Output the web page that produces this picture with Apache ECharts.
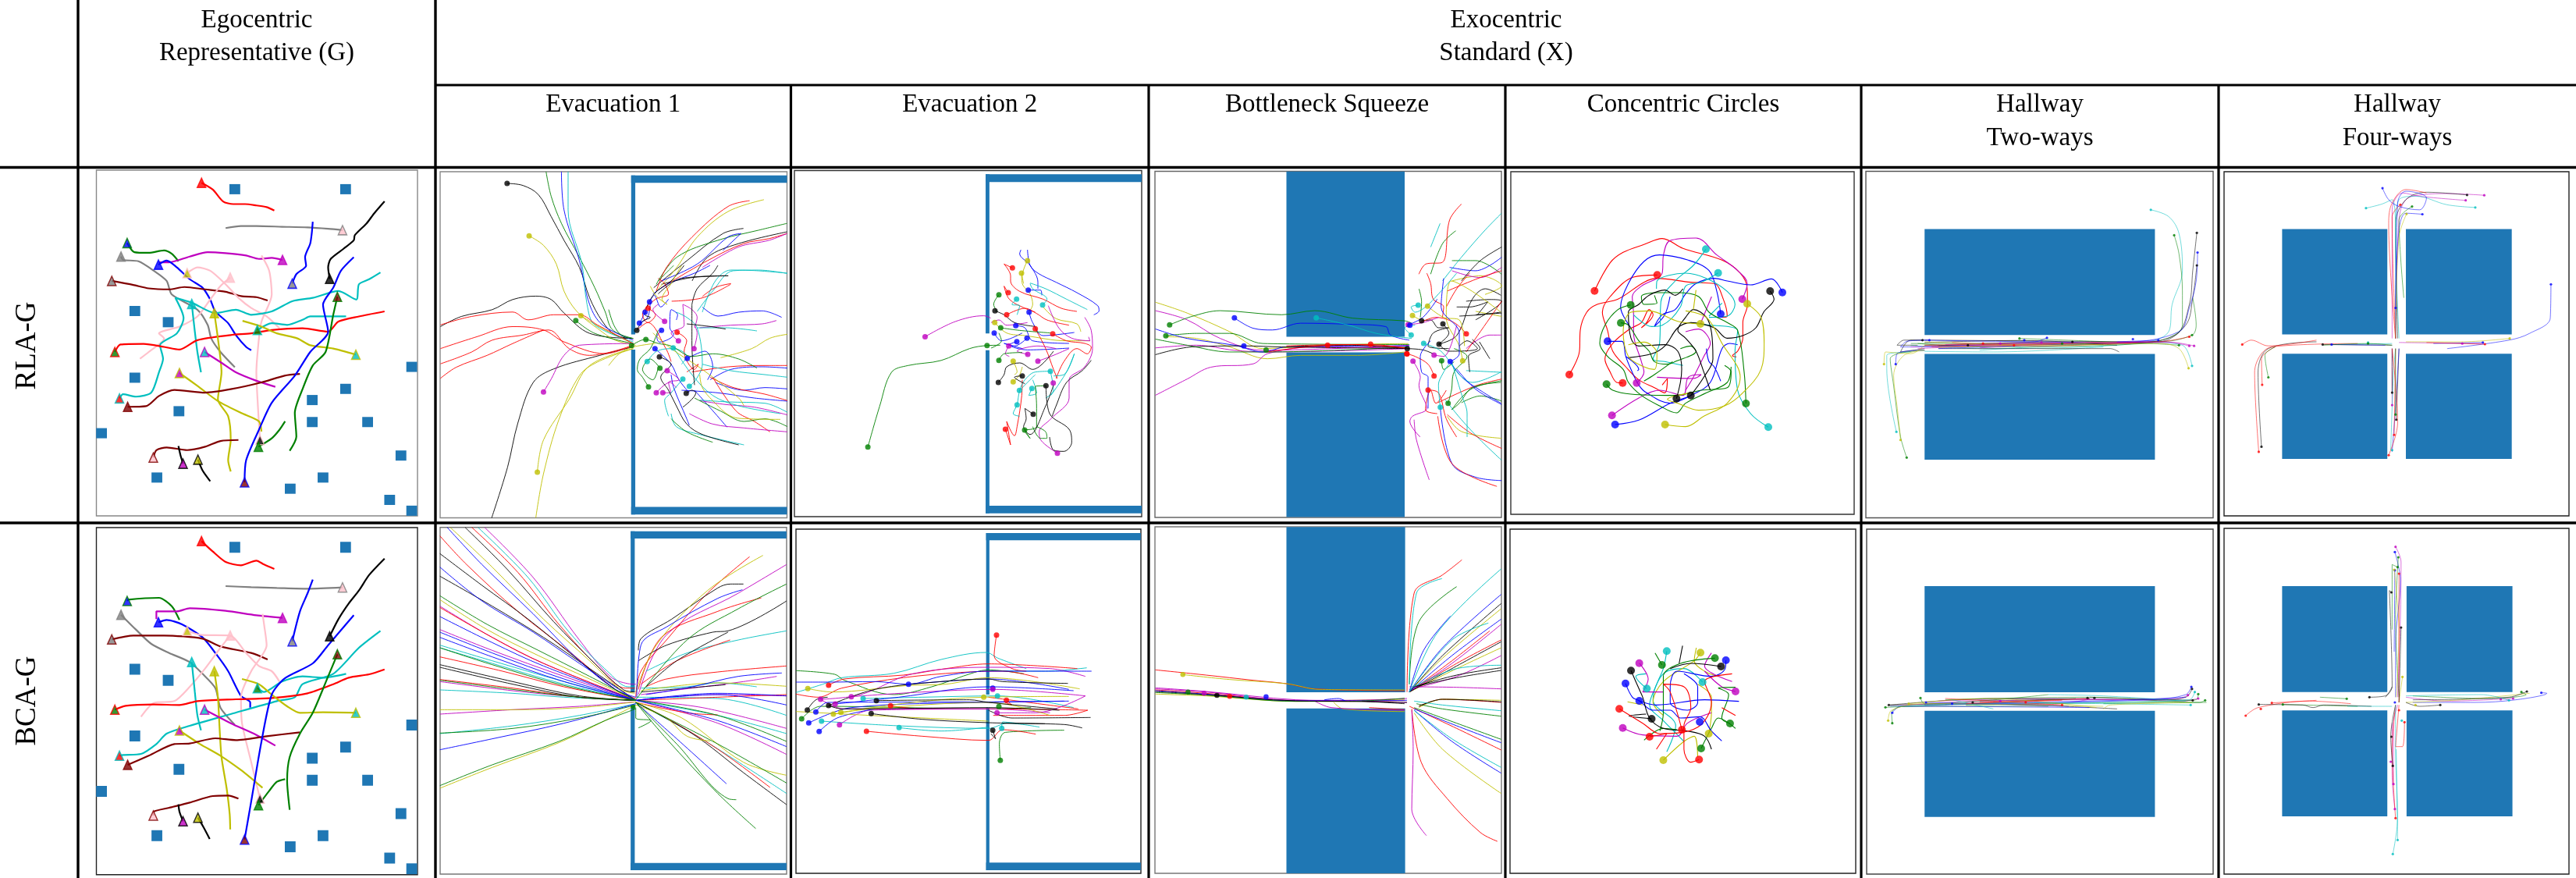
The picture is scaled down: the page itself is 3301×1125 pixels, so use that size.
<!DOCTYPE html>
<html><head><meta charset="utf-8"><style>html,body{margin:0;padding:0;background:#fff}#c{width:3301px;height:1125px}</style>
<script src="https://cdn.jsdelivr.net/npm/echarts@6/dist/echarts.min.js"></script></head><body><div id="c"></div>
<script>
// ---------- labels ----------
const rowLabels = ["RLA-G", "BCA-G"];
const groupHeaders = [["Egocentric", "Representative (G)"], ["Exocentric", "Standard (X)"]];
const columnHeaders = [["Evacuation 1"], ["Evacuation 2"], ["Bottleneck Squeeze"], ["Concentric Circles"], ["Hallway", "Two-ways"], ["Hallway", "Four-ways"]];

// ---------- reading scales: each trajectory list is read in the units of one crop of the picture ----------
const Z1 = [0, 1.522, 0, 2.306], Z2 = [1000, 1.65, 0, 2.306], Z3 = [1920, 1.135, 0, 2.306];
const Z4 = [0, 1.522, 660, 3], Z5 = [1000, 1.65, 660, 3], Z6 = [1920, 1.135, 660, 3];
const Z7 = [780, 3, 340, 3], Z8 = [1270, 3, 320, 3], Z9 = [1770, 3, 350, 3], Z10 = [2000, 3, 300, 3];

// ---------- egocentric panels: the same 27 agents in both rows ----------
const egoEdges = "r a k b g m b a d p p p c c c r y y y m d b g g d k k".split(" ");
const egoFaces = "r p k a b m b a a p y k c r g g c y m c d d d g p m y".split(" ");
const egoSquares = [[458,559],[674,559],[263,919],[328,952],[803,1084],[263,1116],[674,1149],[609,1182],[349,1215],[609,1247],[717,1247],[198,1280],[782,1346],[306,1411],[630,1411],[566,1444],[760,1477],[803,1509]];
const egoRlaTracks = [
[393,540,415,560,435,595,455,603,478,603,500,607,520,612,535,622],
[668,680,640,676,600,672,550,670,500,668,470,668,440,674],
[643,824,640,790,645,765,670,735,690,710,692,695,715,660,730,630,750,595],
[570,838,578,810,597,785,595,760,605,720,608,690,610,655],
[248,718,262,745,290,747,320,740,335,750,348,772],
[551,768,530,762,505,765,480,755,440,748,405,745,370,758,330,775,310,775],
[309,782,325,770,345,790,370,825,395,850,410,885,420,920,445,955,460,990,480,1025,490,1035],
[236,758,240,768,270,772,300,800,325,830,335,870,385,915,405,960,412,1000,430,1040,458,1085],
[218,830,260,842,290,852,330,855,360,848,400,855,440,862,470,875,500,878,522,888],
[449,820,430,845,410,885,385,935,350,965,310,985,320,1000,290,1040,273,1060],
[365,807,385,790,410,800,440,840,465,880,490,910,520,935,545,970],
[507,1300,503,1200,500,1100,505,1000,510,950,530,870,525,800,510,755],
[374,898,380,980,385,1040,392,1100],
[233,1177,240,1165,265,1172,295,1160,310,1100,318,1060,312,1020,345,985,358,940,342,880,375,895,420,925,460,915,490,930,530,920,570,890,610,880,660,860,695,885,700,840,720,825,742,805],
[502,975,530,955,560,960,590,945,605,935,640,935,675,935],
[224,1040,235,1018,280,1016,320,1025,350,1033,385,1005,450,990,490,985,530,975,590,970,640,980,660,950,700,935,750,920],
[694,1048,650,1030,605,1020,580,1000,540,985,510,965,473,948],
[418,925,425,1000,432,1100,425,1180,445,1230,450,1300,445,1360,450,1393],
[350,1102,385,1140,425,1185,470,1220,505,1245,510,1275],
[399,1040,430,1070,460,1100,500,1125,537,1143],
[249,1202,285,1200,310,1170,340,1152,400,1160,450,1150,510,1130,555,1110,585,1105],
[477,1425,480,1360,505,1270,530,1190,575,1110,605,1040,640,980,630,900,650,850,665,800,690,760],
[658,877,650,930,635,1040,610,1080,590,1150,575,1220,578,1290,565,1332],
[504,1320,530,1295,545,1270,556,1245],
[299,1352,305,1330,325,1322,365,1330,400,1320,430,1303,465,1300],
[357,1370,352,1345,348,1318],
[386,1358,395,1390,410,1422]];
const egoBcaTracks = [
[393,100,415,140,440,180,470,193,500,175,515,190,535,207],
[668,278,600,283,540,280,490,277,440,273],
[643,466,660,400,680,340,700,290,720,230,750,167],
[570,485,585,370,600,300,610,248],
[248,330,250,325,310,318,335,350,350,403],
[551,395,500,385,440,368,370,358,345,370,305,370,305,400],
[309,412,325,403,355,420,395,470,420,530,445,600,470,695,488,720,488,740],
[236,383,265,440,295,495,330,530,370,565,395,610,420,665,430,740,458,806],
[218,478,260,463,320,463,395,475,430,505,490,530,522,555],
[449,463,430,510,400,590,370,660,340,715,300,722,275,775],
[365,445,390,460,449,463,480,530,505,580,530,600,545,640],
[507,1090,490,950,472,800,470,700,490,600,520,500,515,420,512,380],
[374,565,380,680,385,770,392,827],
[233,925,240,922,275,918,305,880,325,840,370,810,450,765,540,715,575,700,590,650,650,610,700,510,742,445],
[502,665,515,680,550,640,590,620,630,625,675,610],
[224,748,245,733,300,728,350,730,385,715,460,708,530,703,600,685,650,650,680,625,720,612,750,593],
[694,760,630,758,585,760,560,735,530,690,505,650,472,630],
[418,600,425,700,428,810,432,930,442,1050,448,1150,449,1208],
[350,828,390,880,430,925,470,980,495,1020,512,1048],
[399,748,450,800,500,845,537,886],
[249,960,290,925,340,880,370,878,420,858,460,865,520,850,585,835],
[477,1247,490,1100,510,870,530,690,555,628,610,570,640,500,690,385],
[658,535,640,620,610,760,585,840,565,930,560,1020,565,1133],
[504,1115,525,1060,540,1025,556,1015],
[299,1155,300,1140,330,1125,370,1105,415,1080,445,1078,465,1090],
[357,1177,350,1140,348,1112],
[386,1163,397,1200,409,1245]];

// ---------- Evacuation 1 ----------
const evac1Walls = { top: [1231,518,1535,540], upper: [1231,518,1239,988], lower: [1231,1033,1239,1520], bottom: [1231,1498,1535,1520] };
const evac1BcaWalls = { top: [1230,62,1534,90], upper: [1230,62,1238,680], lower: [1230,732,1238,1365], bottom: [1230,1337,1534,1365] };
const evac1RlaFar = {
k:[[989,542,1020,548,1050,575,1075,640,1100,710,1130,790,1150,880,1175,950,1200,990,1232,1000],[859,965,900,935,960,915,1000,885,1045,875,1075,885,1100,925,1150,985,1235,1000],[959,1530,990,1380,1010,1250,1040,1130,1080,1090,1170,1050,1235,1025],[1275,850,1340,770,1410,690,1450,675],[1350,830,1380,760,1440,720,1535,685],[1290,840,1350,820,1420,815]],
y:[[1032,697,1060,725,1085,780,1100,860,1125,920,1165,970,1200,1005,1240,1020],[1133,933,1180,975,1235,1015],[1045,1530,1060,1400,1090,1240,1130,1110,1165,1070,1235,1030],[1048,1395,1060,1300,1110,1180,1150,1080,1235,1030],[1280,860,1320,790,1360,700,1420,625,1490,590]],
g:[[1065,507,1075,580,1095,660,1130,760,1160,850,1180,920,1195,975,1235,1000],[1123,947,1160,985,1235,1015],[1280,840,1320,760,1400,710,1480,680,1535,660]],
b:[[1095,507,1100,620,1130,770,1150,900,1175,960,1235,1005],[1290,830,1360,780,1420,700,1445,690,1410,740]],
c:[[1108,507,1108,620,1135,780,1145,900,1160,960,1235,1010],[1360,920,1390,860,1430,800,1480,798,1535,808]],
r:[[859,960,920,935,1000,922,1030,945,1080,930,1130,930,1165,960,1235,1015],[859,1030,930,995,1000,965,1060,975,1100,1010,1180,1045,1235,1020],[859,1075,920,1040,960,1005,1020,990,1070,975,1110,1030,1150,1050,1235,1020],[859,1118,890,1085,950,1050,1000,1015,1060,975],[1280,860,1300,790,1350,700,1420,610,1462,593],[1290,850,1380,770,1450,720,1500,705,1535,690],[1310,890,1370,880,1425,840]],
m:[[1060,1158,1075,1120,1100,1050,1130,1020,1235,1015],[1370,790,1440,730,1500,710,1535,690]]};
const evac1RlaFarDots = { k:[989,542], y:[1032,697,1133,933,1048,1395], g:[1123,947], m:[1060,1158] };
const evac1RlaNear = {
b:[[203,250,185,275,195,295,250,265,235,240,240,170,265,190,260,210],[302,358,370,330,400,390,380,440],[178,320,240,380,270,440,310,490],[157,140,175,115,200,160,230,130],[140,180,120,222,150,200,160,140],[360,160,420,195,500,180,590,175,665,200],[390,440,470,400,590,390,687,395],[410,450,520,480,600,470,687,475],[280,480,420,490,560,510,687,522],[330,480,410,570,455,622],[240,420,250,470,300,590,310,615],[170,110,230,70,330,30,390,0]],
r:[[263,257,300,290,290,330,330,400,345,380,300,410],[152,165,180,190,150,220,130,190,180,130,230,110,215,70,190,50],[320,410,460,390,600,385,687,385],[390,430,480,470,600,495,687,520],[400,430,490,560,560,600,620,640],[108,250,150,220,220,320,240,370],[360,120,410,85,470,70]],
m:[[268,290,240,260,290,230,285,150,320,170,340,200,330,240],[328,320,340,260,330,230],[225,405,270,440,230,450,240,490,208,490],[350,240,470,230,590,225,645,212],[350,520,450,535,560,545,687,575],[310,570,400,610,520,625,687,640],[215,215,170,170,190,150],[183,490,235,450,260,470]],
c:[[310,465,335,440,360,380,340,240,300,200,260,180],[285,437,240,490,215,520,230,580],[148,370,185,330,250,320,300,350,280,380],[340,240,450,240,570,252],[360,380,470,405,600,420,687,430],[350,518,460,525,600,530,687,565],[240,570,260,620,350,650,520,690],[360,180,410,60,470,18,560,20,687,30],[250,317,320,420,400,500,500,540,660,570]],
g:[[153,467,130,430,110,400,120,360,160,320,190,250],[197,395,160,360,130,400,170,440,190,395],[88,308,140,285,190,300,240,310,320,350,400,340,500,360,570,395],[330,510,430,560,520,600,600,590,687,620],[240,590,300,640,400,680],[0,170,20,230,50,270,90,280],[190,60,230,20,250,0]],
k:[[298,492,320,480,335,490,285,545],[195,352,240,380,200,430,230,480,260,540,300,610,360,650,500,690],[108,250,130,215,160,200,140,190,175,110,240,60,290,0],[300,225,390,235,450,245],[320,150,340,90,400,30,420,0],[330,460,320,300,320,150],[190,110,280,50,460,40]],
y:[[160,80,185,120,225,150,205,130,240,70,280,0],[430,355,550,320,620,280,687,265],[350,420,360,470,400,520,470,580,540,590,660,592],[170,260,240,320,360,400,500,510,520,540],[0,385,40,340,90,315,180,300]]};
const evac1RlaNearDots = { b:[157,140,140,180,118,222,203,250,178,320,302,358], r:[152,165,263,257], k:[108,250,195,352,298,492], m:[215,215,268,290,328,320,225,405,208,490,183,490], g:[143,285,88,308,197,395,153,467], c:[148,370,248,317,285,437,310,465] };
const evac1BcaTracks = {
m:[[945,47,1040,240,1130,480,1190,620,1225,648,1240,650],[858,350,960,470,1060,570,1240,712],[858,440,960,520,1100,620,1240,712],[858,640,1000,675,1130,700,1240,712],[858,765,1000,748,1130,735,1240,718],[1245,690,1300,460,1440,300,1534,190],[1250,690,1350,665,1450,640,1515,620],[1240,712,1400,690,1534,695],[1240,712,1370,740,1534,820],[1240,712,1400,800,1534,920]],
c:[[932,47,1030,240,1110,450,1190,610,1225,660,1238,660],[858,500,960,560,1100,640,1240,712],[858,510,960,570,1100,650,1240,712],[858,672,1000,685,1100,700,1240,712],[858,840,1000,810,1130,770,1240,725],[1260,600,1340,530,1440,480,1534,445],[1250,665,1340,660,1400,645,1476,660],[1240,700,1400,705,1534,770],[1240,712,1400,770,1534,840],[1240,720,1360,850,1534,1070]],
r:[[920,47,1010,220,1090,420,1170,590,1220,665,1238,665],[858,80,910,190,1010,370,1120,540,1200,670,1240,705],[858,355,960,470,1060,570,1240,712],[858,545,980,600,1100,660,1240,712],[858,632,1000,665,1130,700,1240,712],[1240,700,1250,600,1300,480,1380,300,1462,160],[1245,670,1290,470,1400,370,1485,318],[1250,650,1320,560,1424,480],[1260,660,1300,630,1400,603,1534,580],[1240,712,1400,700,1534,690],[1240,720,1300,780,1400,900,1502,1047],[1240,720,1340,760,1400,768]],
k:[[907,47,990,210,1080,410,1160,570,1215,670,1238,680],[858,148,940,270,1030,400,1130,560,1200,670,1240,710],[858,235,960,350,1060,470,1150,590,1240,712],[858,575,1000,640,1130,695,1240,712],[858,585,1000,650,1130,700,1240,712],[1245,520,1250,475,1310,400,1400,280,1425,265,1450,265],[1245,560,1300,500,1390,450,1420,445,1534,330],[1260,660,1320,560,1420,450],[1250,680,1340,665,1415,652],[1240,720,1350,840,1450,990,1534,1113]],
y:[[878,47,960,200,1060,400,1150,560,1210,670,1238,685],[858,325,950,440,1050,540,1150,630,1240,712],[858,748,1000,748,1130,740,1240,718],[858,1050,960,970,1090,875,1180,790,1235,735],[1240,680,1280,500,1380,290,1488,155],[1250,675,1400,645,1534,658],[1240,720,1330,780,1450,950,1534,1000],[1240,730,1300,780,1340,850,1385,868]],
b:[[872,47,940,190,1040,380,1130,560,1200,670,1240,700],[858,200,940,330,1040,450,1130,570,1240,712],[858,390,960,490,1060,580,1240,712],[858,450,960,530,1100,630,1240,712],[858,470,960,545,1100,640,1240,712],[858,902,960,860,1100,800,1240,725],[1242,700,1250,500,1300,430,1400,320,1448,287],[1260,690,1350,660,1440,620,1525,607],[1240,712,1400,685,1534,695],[1240,712,1400,690,1534,730],[1240,712,1400,790,1534,890],[1240,720,1320,860,1417,1033]],
g:[[858,310,950,420,1050,520,1150,620,1240,712],[858,510,960,575,1100,655,1240,712],[858,635,1000,670,1130,700,1240,712],[858,838,1000,820,1130,780,1240,730],[858,1040,960,960,1090,870,1180,790,1240,745],[1240,710,1340,480,1440,360,1534,265],[1245,712,1400,770,1534,870],[1240,720,1400,880,1534,1030],[1240,720,1320,880,1420,1090,1436,1094],[1240,720,1300,860,1400,1070,1474,1205],[1240,740,1240,780,1270,790,1245,818]]};
const evac1BcaDots = { g:[1235,737] };

// ---------- Evacuation 2 ----------
const evac2Walls = { top: [434,515,764,538], upper: [434,515,442,985], lower: [434,1035,442,1517], bottom: [434,1494,764,1517] };
const evac2BcaWalls = { top: [435,69,762,97], upper: [435,69,442,690], lower: [435,740,442,1365], bottom: [435,1336,762,1365] };
const evac2RlaFar = { m:[[306,995,370,950,430,933,445,940]], g:[[185,1321,210,1200,235,1100,270,1080,340,1065,400,1030,437,1021,465,1020]] };
const evac2RlaFarDots = { m:[306,995], g:[185,1321,437,1021] };
const evac2RlaNear = {
b:[[140,0,150,60,180,90,250,125,330,165,410,215,415,235,395,250],[115,0,110,15,150,60,180,125,180,150],[143,155,190,155,195,175],[146,240,160,280,200,330,320,318],[95,292,130,300,160,350,300,360],[12,320,40,350,120,320],[138,340,90,370,50,360,120,380],[99,353,70,365,140,385,300,378]],
y:[[117,90,120,130,150,170,160,210,145,240],[200,220,250,265,330,285,345,315],[14,280,60,320,130,330,290,350,380,350],[85,428,100,470,90,480],[85,508,110,480,120,450],[140,42,120,100,125,130]],
r:[[82,70,50,55,75,100,75,120,110,160,200,190,270,225,330,237],[66,165,50,140,70,190,130,225,170,240],[60,250,130,225,175,245,215,270,300,290],[170,304,210,380,240,460,255,495],[237,323,290,350,360,360,385,375,370,400,330,380,280,430,250,495],[55,690,75,750,60,660,90,715,100,680,118,560,120,500]],
c:[[150,128,210,150,290,190,370,230],[198,212,215,190,160,150,150,130],[98,190,80,210,110,215,100,250],[228,467,170,470,130,500,110,540,100,595,85,630,110,640],[109,541,170,480],[157,533,145,560,175,550,160,500],[240,485,280,480,320,400,290,470,230,560],[228,467,240,540,210,570]],
m:[[220,215,260,300,310,340,380,350,375,335],[360,260,385,310,390,380,360,450,300,500,300,570,230,650,185,700,190,730,255,782],[68,370,55,400,70,410],[141,402,100,390,180,370,250,380],[180,428,230,410,300,380],[0,280,30,270,60,290,140,280]],
g:[[30,173,10,210,25,240],[37,300,110,310,230,320],[30,425,50,400,120,395],[212,523,170,525,175,600,175,680,130,692],[129,693,150,725,130,700],[175,680,210,700,215,725,190,725,160,680],[0,378,40,350,30,320]],
k:[[15,235,50,250,90,280,170,295],[385,425,350,465,290,510,250,600,235,640],[211,523,225,630,300,690,310,740,280,775,240,770,225,720],[28,510,50,480,60,450,110,435,160,460,240,390],[120,485,90,490,130,515],[162,632,130,610,135,650,125,680,150,710,210,600,240,520]]};
const evac2RlaNearDots = { y:[140,42,117,90,14,280,85,428,85,508], r:[82,70,66,165,60,250,170,304,237,323,55,690], b:[143,155,146,240,95,292,12,320,138,340,99,353], c:[98,190,198,212,228,467,109,541,157,533,100,596], g:[30,173,37,300,30,425,129,693], k:[15,235,120,485,28,510,211,523,162,632], m:[68,370,141,402,180,428,239,512,255,782] };
const evac2BcaTracks = {
c:[[33,682,90,650,130,625,240,608,340,555,435,528,460,550,520,590],[440,598,560,600,648,587],[175,705,300,700,459,695,620,740],[87,792,250,810,440,820,480,800,548,815],[251,817,340,830,440,815],[468,820,470,795,500,800]],
g:[[33,598,115,612,135,635,240,690,320,660,410,605,440,595,515,610],[45,783,85,735,440,745,530,740],[465,943,463,880,476,835,600,827]],
r:[[102,654,135,630,260,615,350,590,440,572,628,590],[33,688,80,700,130,665,260,625,380,605,470,600,545,625],[233,733,300,745,440,745,650,750],[182,831,300,850,440,866,470,825,540,842],[457,461,452,540,490,590,520,600],[440,700,630,745],[478,712,490,730,475,720],[450,770,520,770,600,770,650,750]],
m:[[85,708,170,690,280,610,440,585,570,590,645,620],[150,698,300,680,450,670,645,695],[85,708,135,745,440,745,570,760],[125,806,190,750,440,745],[460,760,540,760,645,695]],
b:[[33,642,100,642,200,640,271,650,340,620,440,600,560,600,658,600],[271,650,340,640,440,630,610,670],[116,726,250,700,440,660,620,675],[75,757,100,720,440,718,610,715],[60,799,150,740,440,720,600,715],[82,832,120,780,200,745]],
y:[[58,667,110,680,270,655,350,650,440,625,633,668],[128,758,280,720,430,700,610,697],[112,765,190,745,440,720,570,770],[33,755,190,770,440,792]],
k:[[102,732,200,670,340,640,440,630,470,640,608,647],[203,713,400,710,440,720,585,745],[57,749,75,710,100,700],[102,732,130,745,440,740,590,750],[192,763,300,785,440,798,560,802],[440,750,490,780,656,778],[470,800,600,805,638,818],[449,827,455,860,445,840]]};
const evac2BcaDots = { r:[457,461,102,654,233,733,182,831,478,712], y:[58,667,112,765,128,758,430,700], b:[271,650,75,757,60,799,82,832,449,665], m:[85,708,150,698,116,726,125,806,449,670,458,760], c:[175,705,87,792,251,817,459,695,468,820], k:[203,713,102,732,57,749,192,763,449,827], g:[45,783,462,736,465,943] };

// ---------- Bottleneck squeeze ----------
const bottleRlaBlocks = { upper: [1070,506,1320,995], lower: [1070,1041,1320,1528] };
const bottleBcaBlocks = { upper: [1070,46,1321,681], lower: [1070,743,1321,1378] };
const bottleRlaFar = {
y:[[793,893,860,925,950,980,1020,1030,1150,1020,1328,1015],[815,995,880,1000,950,1025,1030,1060,1100,1050,1220,1050,1320,1040],[1420,830,1480,815,1525,845,1490,870],[1470,920,1525,935],[1410,1230,1440,1275,1525,1295]],
m:[[793,918,860,945,930,1000,1020,1035,1330,1020],[793,1028,880,1020,960,1035,1030,1040,1330,1030],[793,1168,860,1120,910,1085,1000,1075,1030,1045,1130,1025,1330,1030],[1420,800,1480,820,1525,790],[1450,1030,1500,990,1525,990],[1340,1240,1345,1300,1372,1418]],
g:[[823,960,870,935,930,918,1060,930,1130,918,1210,940,1320,948,1335,955],[815,992,880,985,950,985,1020,1015,1330,1018],[793,1002,860,1020,950,1040,1030,1040,1330,1025],[1375,810,1400,720,1428,682],[1420,770,1470,770,1525,810],[1420,1210,1460,1150,1525,1125],[1440,1190,1480,1170,1525,1185]],
b:[[960,939,1000,970,1040,975,1100,955,1200,958,1280,965,1290,990,1330,1005],[793,972,860,1000,960,1020,1020,1040,1070,1025,1330,1022],[1415,790,1470,800,1525,760],[1430,1090,1470,1150,1525,1195],[1395,1200,1420,1370,1470,1410,1525,1420]],
c:[[1133,939,1200,960,1260,985,1335,1000],[1375,730,1395,660],[1400,830,1440,760,1490,680,1525,630],[1450,1095,1525,1100],[1405,1180,1440,1240,1480,1300,1525,1360]],
k:[[793,1048,870,1025,980,1022,1060,1025,1330,1030],[1070,1025,1200,1020,1330,1030],[1440,830,1480,770,1525,730],[1450,890,1500,885,1525,890,1470,945],[1470,930,1525,925],[1478,1010,1500,1060]],
r:[[1027,1040,1157,1020,1248,1018,1328,1030],[1070,1022,1200,1018,1325,1028],[1350,810,1365,780,1400,775,1415,650,1440,603],[1410,860,1480,820,1525,800],[1450,1040,1525,890],[1390,1190,1470,1140,1525,1120],[1410,1225,1460,1280,1525,1325],[1390,1230,1420,1370,1515,1437]]};
const bottleRlaFarDots = { g:[823,960,815,992,1027,1034], b:[960,939,980,1022], c:[1133,939], r:[1157,1020,1248,1017,1325,1046] };
const bottleRlaNear = {
k:[[155,183,190,180,220,210,260,210,200,230,180,280,260,290],[237,195,260,230,220,273,290,240,350,100,400,60,460,85],[222,273,260,300,370,290,330,260,300,280],[100,290,160,295,200,310],[300,165,380,160,460,150],[340,380,335,320,380,290,350,255],[290,130,340,130,410,110,370,160]],
r:[[327,233,280,190,210,170,150,190],[180,449,220,460,250,560,290,630],[203,395,180,350,130,320,98,310],[215,540,170,525,190,450,210,500,250,450],[175,0,190,40,200,100,240,130,235,170],[340,0,290,60,250,130]],
g:[[257,500,270,450,280,380,330,320,280,290],[232,337,240,370,280,340],[145,60,155,110,150,170],[270,525,300,500,350,440,460,420]],
y:[[178,127,240,170,300,180,320,280],[313,337,300,280,250,170,270,30,350,70,460,150],[120,163,150,180]],
m:[[122,338,150,400,145,430,175,520,120,550,110,570,150,630],[203,315,240,320,290,200],[103,198,160,190,220,170]],
b:[[265,340,300,310,300,230,230,130,240,20],[180,520,180,400,155,380,150,320,190,260],[100,200,160,170,215,100],[265,340,310,400,380,450,460,500]],
c:[[142,123,115,130,130,150,170,130,220,80,290,0],[163,270,230,300,300,390,350,420,460,380],[227,515,220,430,240,380,260,350],[330,630,330,540,310,470,270,340],[115,238,90,210,130,200]]};
const bottleRlaNearDots = { c:[142,123,115,238,163,270,227,515], y:[178,127,120,163,313,337], m:[103,198,203,315,122,338], b:[110,200,265,340], k:[222,273,155,183,237,195,100,290], r:[327,233,98,310,203,395,180,449], g:[232,337,257,500] };
const bottleBcaTracks = {
r:[[793,595,900,615,1000,635,1070,648,1130,668,1320,675],[793,672,900,685,1090,714,1200,716,1320,712],[1245,740,1320,748],[1325,680,1340,300,1400,230,1441,172],[1330,680,1420,560,1500,445],[1330,680,1430,570,1524,480],[1350,735,1400,708,1524,720],[1330,735,1430,820,1524,903],[1335,745,1355,950,1410,1090,1480,1220,1516,1254]],
y:[[851,613,950,632,1070,648,1140,670,1320,672],[793,688,900,695,1090,716,1200,712,1320,708],[1170,720,1190,745,1320,755],[1330,680,1400,550,1524,360],[1330,680,1430,590,1524,510],[1350,740,1400,708,1524,712],[1340,760,1400,900,1524,1070]],
m:[[793,668,900,680,1090,712,1200,712,1325,705],[793,664,900,678,1090,710,1200,714,1325,720],[1130,715,1165,740,1320,750],[1330,680,1420,570,1524,420],[1330,670,1430,620,1524,540],[1330,660,1430,662,1524,668],[1335,750,1338,900,1335,1130,1366,1232]],
b:[[793,675,900,688,1090,714,1200,714,1325,712],[1150,710,1180,705,1195,715],[1330,680,1360,520,1417,388],[1330,680,1400,510,1524,305],[1330,680,1420,540,1524,400],[1340,745,1430,810,1524,875],[1340,750,1420,870,1524,992]],
g:[[793,682,900,692,1090,716,1200,716,1320,704],[1330,650,1350,410,1430,275],[1345,725,1400,745,1524,773],[1340,740,1430,800,1524,862]],
k:[[793,678,900,690,1090,714,1200,716,1325,720],[1230,715,1320,725],[1330,680,1400,540,1524,340],[1330,680,1430,580,1524,487],[1340,660,1430,615,1524,587],[1340,660,1430,625,1524,597],[1350,735,1400,708,1524,718]],
c:[[1330,650,1345,300,1399,244],[1330,680,1390,450,1524,207],[1330,680,1420,480,1497,415],[1340,660,1430,590,1524,577],[1340,715,1400,730,1524,752],[1340,750,1420,860,1524,970]]};
const bottleBcaDots = { y:[851,613], g:[862,680], m:[896,685], k:[923,693], r:[950,697], c:[985,700], b:[1027,698] };

// ---------- Concentric circles ----------
const circlesRlaTracks = {
r:[[130,218,190,110,240,70,320,40,390,17,470,55,620,100,690,150,717,210,718,270,700,340,700,400,680,450,660,467,675,472],[33,540,72,450,75,370,100,300,140,270,220,250,320,185,370,170,500,185,590,190,625,250,640,315,620,320],[371,157,280,165,190,240,160,300,180,370,200,450,250,510,300,560,360,590,400,610,410,555,390,580],[238,572,215,570,190,530,170,480,200,420,265,365,310,340,340,290,355,310,310,360,330,340,350,300]],
m:[[292,572,320,530,310,490,280,380,280,310,275,240,310,200,370,170,390,150,395,80,420,25,520,15,600,80,680,140,717,190,698,250],[197,697,300,630,380,600,470,620,490,550,540,540,510,555,370,550],[537,345,580,240],[480,375,530,365,575,420,550,470,510,550,480,600]],
b:[[852,224,810,172,730,195,640,180,590,170,520,190,480,230,440,290,390,310,360,355,400,310,420,240],[615,307,600,220,570,140,490,100,380,80,320,105,260,190,230,280,270,360],[180,412,235,412,250,470,270,520,300,580,330,610,420,650,500,620],[209,732,300,715,420,650,500,620,575,570,620,440,650,420,680,425],[615,565,590,510,570,490,560,440],[250,470,300,520,295,525]],
c:[[558,58,510,120,440,180,385,260,380,420,355,480,400,490,470,505],[605,149,540,185,480,200,460,280,390,350,350,355,280,310],[368,210,370,180,480,150,560,170,640,220,670,270,640,315,570,320],[798,742,730,690,680,600,670,450,680,370,640,355,570,350,500,340],[620,265,570,315]],
g:[[269,272,220,290,170,350,150,420,180,470,240,520,260,570,310,620,380,660,445,687,480,650,560,610,640,570,655,510],[176,577,200,600,270,615,440,620,540,600,640,590,655,530,630,505],[231,341,260,350,300,410,340,450,360,490,410,500,440,490,520,450,500,430,460,440],[712,651,705,530,680,370,640,340,570,300,530,240,450,225,370,225,310,240,320,270,370,265,360,235],[320,565,360,540,430,490]],
k:[[805,219,820,250,780,300,750,360,700,390,640,400,590,360,500,340,450,360,400,430,350,460,260,475],[445,632,460,570,465,520,450,450,400,425,300,430,270,400,260,300,300,270,340,235,400,215,440,235,470,210],[500,620,550,550,585,480,580,380,560,320,510,290,480,320,450,370,480,400,520,450,550,530,575,600]],
y:[[401,732,480,740,550,700,640,650,690,550,620,420,560,320,480,295],[717,268,770,320,782,420,770,520,700,610,630,660,530,677,450,650,410,635,500,610],[537,345,450,335,340,295,270,300,240,370,260,470,320,510,360,520,370,460,320,415,260,425],[510,290,520,215]]};
const circlesRlaDots = { r:[130,218,33,540,371,157,238,572], m:[292,572,197,697,698,250], b:[852,224,615,307,180,412,209,732], c:[558,58,605,149,798,742], g:[269,272,176,577,231,341,712,651], k:[805,219,445,632,500,620], y:[401,732,717,268,537,345] };
const circlesBcaTracks = {
c:[[245,523,240,590,232,640,220,730,240,790,255,830,270,870],[216,667,200,620,215,610],[297,642,270,590,240,610,225,710,258,810,245,910]],
y:[[294,529,285,560,240,640,225,720,240,770],[288,510,285,560,300,600,320,620],[240,942,270,870,285,850,290,930],[306,840,310,760,310,700,290,650],[188,718,210,730]],
m:[[205,569,218,630,210,680,240,680],[310,530,300,580,340,640],[181,818,210,845,260,850,275,800,310,760],[345,678,325,660,300,600]],
g:[[315,550,265,570,240,620,240,760,235,830],[238,576,228,530],[295,897,310,820,320,780,345,820],[337,801,325,780,335,690,320,665,345,662],[212,865,240,820,260,825]],
b:[[331,558,330,590,310,620,260,600,250,660,250,720,275,750,290,720,290,660,270,610],[185,647,195,700,205,714,225,750,250,750,265,780,293,775,310,830,325,868],[205,714,230,730,300,710,350,716]],
k:[[324,582,280,570,250,590],[268,502,263,570],[193,598,205,670,210,700,220,780,240,820,275,830,300,850,310,900],[223,783,190,772,215,765]],
r:[[176,745,210,800,235,840,290,815,310,720,300,640,340,610],[220,852,245,840,230,900],[267,825,250,680,240,650,270,660,280,740,270,810,270,900,280,950,292,940],[325,740,345,770]]};
const circlesBcaDots = { c:[245,523,216,667,297,642], y:[294,529,306,840,240,942], g:[315,550,238,576,337,801,295,897], b:[331,558,185,647,205,714,293,795], k:[324,582,193,598,223,783], m:[205,569,345,678,181,818], r:[176,745,220,852,267,825,292,940] };

// ---------- Hallways ----------
const hall2RlaBlocks = { upper: [620,677,955,990], lower: [620,1046,955,1358] };
const hall2BcaBlocks = { upper: [620,273,955,681], lower: [620,752,955,1160] };
const hall4RlaBlocks = { a: [1140,677,1293,988], b: [1320,677,1474,988], c: [1140,1045,1293,1356], d: [1320,1045,1474,1356] };
const hall4BcaBlocks = { a: [1140,273,1293,680], b: [1321,273,1475,680], c: [1140,751,1293,1158], d: [1321,751,1475,1158] };
const hall2RlaTracks = {
c:[[949,620,975,640,990,690,995,800,980,900,975,980,930,1015,700,1030,600,1020],[1009,1081,995,1020,950,1012,700,1035],[620,1038,720,1040,880,1025],[579,1276,565,1090,565,1050,600,1040]],
g:[[983,695,990,750,995,860,995,960,940,1015,700,1025,610,1015],[1010,880,1015,960,1009,990,960,1010,600,1015],[990,1020,950,1015,758,1000],[594,1352,585,1290,575,1140,570,1060,620,1035],[640,1022,760,1012,880,1018]],
k:[[1016,688,1010,800,1005,900,985,990,900,1015,620,1020],[1016,784,1010,880,1000,960,960,1010,800,1008,600,1005,585,1040,620,1030],[903,1040,890,1030,640,1030],[617,1005,590,1005,580,1020,610,1020],[620,1012,760,1006,900,1020]],
b:[[1017,746,1015,830,1005,910,990,980,900,1012,620,1005],[798,998,780,1010,620,1025],[578,1076,580,1045,620,1035],[627,1005,595,1008,585,1025,620,1025],[640,1030,800,1018,960,1005]],
r:[[1005,995,960,1010,760,1015,620,1020],[630,1025,750,1020,870,1012],[660,1012,790,1022,930,1012]],
m:[[1005,1022,970,1010,700,1020,600,1025],[1012,1022,980,1012,800,1015,610,1030],[650,1018,780,1012,920,1016],[700,1028,830,1014,950,1010]],
y:[[1004,1088,990,1030,960,1015,800,1020,620,1010],[561,1076,563,1040,600,1045,620,1020],[585,1300,580,1200,575,1110,590,1050,620,1035],[640,1026,780,1018,900,1010]]};
const hall2RlaDots = { c:[949,620,1009,1081,579,1276], g:[983,695,1009,990,990,1020,758,1000,594,1352,820,1015], k:[1016,688,1016,784,617,1005,683,1020,835,1010], b:[1017,746,960,1005,923,1002,798,998,578,1076,627,1005,765,1005], r:[1005,995,705,1015,750,1020], m:[1005,1022,1012,1022,730,1015,790,1012], y:[1004,1088,561,1076,585,1300] };
const hall2BcaTracks = {
k:[[1009,668,1000,700,960,710,720,705,570,730],[1010,712,860,700],[568,730,690,725,900,745],[700,715,860,705]],
m:[[1003,692,990,705,700,715,570,735],[1018,705,1000,715],[640,715,790,705,1000,715],[680,720,800,728,860,708]],
g:[[1028,712,1020,720,860,700,650,710],[1018,688,1015,710,900,720,680,730],[573,800,572,760,590,735,800,735],[563,739,600,735,840,705],[614,703,620,725,800,690],[880,725,1030,720]],
b:[[1008,660,1000,690,950,710,620,730],[573,760,585,735,860,740],[622,720,830,735],[1000,700,900,712,760,720,650,728]],
c:[[1013,680,1005,710,700,725,570,735],[1007,730,880,725,720,720],[660,710,720,745],[800,690,880,695,1000,715]],
y:[[567,790,572,750,620,725,880,735],[597,725,710,705,870,740],[880,745,890,730,1010,720]],
r:[[650,705,820,730],[680,725,860,705],[700,720,820,712]]};
const hall2BcaDots = { k:[1009,668,1010,712,568,730,857,703,867,703,690,720], m:[1003,692,1018,705,730,715], g:[1028,712,1018,688,573,800,563,739,614,703], b:[1008,660,573,760,622,720,660,725], c:[1013,680,1007,730], y:[567,790,597,725], r:[820,730,767,720] };
const hall4RlaTracks = {
m:[[1434,577,1380,572,1345,575,1320,590,1310,650,1305,1000],[1407,592,1340,580,1315,570,1300,620,1300,1000],[1430,1015,1310,1012],[1300,1197,1300,1030]],
k:[[1409,576,1350,568,1320,590,1305,660,1308,1000],[1200,1018,1300,1020],[1110,1320,1105,1100,1120,1030,1190,1010],[1300,1160,1300,1030],[1306,1240,1310,1030]],
c:[[1421,613,1380,605,1335,580,1310,590,1305,680,1310,1000],[1262,615,1285,603,1300,590,1305,700,1305,1000],[1298,1330,1302,1100,1305,1030],[1220,1018,1300,1015]],
b:[[1286,556,1295,590,1310,610,1340,620,1350,585,1320,565,1308,600,1305,1000],[1344,633,1320,630,1310,680,1305,910],[1531,840,1530,940,1500,985,1470,1005,1380,1030],[1432,1012,1360,1015],[1300,1335,1305,1200,1310,1030],[1212,1018,1290,1020]],
r:[[1312,605,1300,640,1305,1000],[1350,570,1320,560,1300,600,1295,660,1305,1000],[1435,1017,1350,1012],[1082,1018,1095,1005,1120,1022,1190,1005],[1106,1335,1100,1100,1125,1025,1250,1015],[1111,1137,1110,1060,1130,1025],[1303,1285,1305,1030],[1295,1345,1308,1250,1300,1030]],
g:[[1329,610,1310,650,1317,880],[1200,1020,1265,1015,1300,1020],[1120,1115,1115,1050,1130,1025],[1305,1225,1305,1030]],
y:[[1321,632,1310,700,1305,1000],[1471,1000,1400,1010,1320,1010]]};
const hall4RlaDots = { m:[1434,577,1407,592,1402,1015,1300,1197], k:[1409,576,1199,1018,1110,1320,1300,1160,1306,1240], c:[1421,613,1262,615,1265,1012,1300,1330], b:[1286,556,1344,633,1531,840,1432,1012,1305,910,1212,1018], r:[1312,605,1082,1018,1106,1335,1111,1137,1303,1285,1295,1345,1435,1017], g:[1329,610,1120,1115,1305,1225,1265,1015], y:[1321,632,1471,1000] };
const hall4BcaTracks = {
m:[[1305,122,1313,180,1312,400,1308,700],[1304,1130,1300,1000,1300,800],[1302,1034,1302,800,1308,730],[1476,705,1380,715,1320,700]],
b:[[1304,142,1312,250,1305,500,1305,700],[1304,212,1303,525],[1517,683,1525,685,1480,710,1420,720,1330,720]],
g:[[1309,162,1305,400,1310,700],[1308,200,1300,190,1300,440],[1488,680,1495,690,1440,705,1330,695],[1141,728,1250,735],[1234,706,1195,700]],
y:[[1303,210,1310,450,1306,700],[1315,622,1310,720],[1500,685,1400,710,1320,720]],
r:[[1310,225,1310,600,1310,720],[1305,1165,1300,900,1305,730],[1318,796,1315,890,1305,890,1310,730],[1087,771,1105,740,1180,715,1240,725],[1125,722,1190,712]],
k:[[1299,297,1296,290,1300,660,1290,700],[1313,432,1310,720],[1301,964,1298,850,1305,730],[1496,678,1470,700,1330,710],[1106,728,1170,730,1185,740,1200,730,1270,735],[1267,700,1290,695,1300,660],[1370,730,1340,735,1320,720]],
c:[[1301,1303,1308,1165,1305,900,1305,730],[1308,1249,1306,900],[1470,712,1430,690,1320,695],[1235,735,1300,735]]};
const hall4BcaDots = { m:[1305,122,1298,948,1302,1034,1304,1130,1476,705,1458,708], b:[1304,142,1304,212,1304,720,1517,683], g:[1309,162,1308,200,1488,680,1234,706,1141,728], y:[1303,210,1315,622,1334,730], r:[1310,225,1310,750,1318,796,1305,1165,1125,722,1109,745,1087,771], k:[1299,297,1313,432,1299,852,1301,964,1496,678,1370,730,1267,700,1106,728], c:[1314,790,1308,1249,1301,1303,1470,712] };

// ---------- colour keys ----------
const palette = { r:'#ff0000', g:'#008000', b:'#0000ff', c:'#00bfbf', m:'#bf00bf', y:'#bfbf00', k:'#000000', a:'#808080', p:'#ffc0cb', d:'#800000' };
const blue = '#1f77b4';

// ---------- panels: frame rectangle in picture pixels ----------
const panels = [
 {f:[123.5,218,535,661], b:'#888', ego:egoRlaTracks, crop:Z1, sq:[21,30]},
 {f:[564,220,1008.5,663.5], b:'#888', rects:[evac1Walls,Z1], w:.9, s:7, layers:[[evac1RlaFar,evac1RlaFarDots,Z1],[evac1RlaNear,evac1RlaNearDots,Z7]]},
 {f:[1018,218.5,1463,662], b:'#333', rects:[evac2Walls,Z2], w:.9, s:7, layers:[[evac2RlaFar,evac2RlaFarDots,Z2],[evac2RlaNear,evac2RlaNearDots,Z8]]},
 {f:[1480,219.5,1924,663], b:'#666', rects:[bottleRlaBlocks,Z2], w:.9, s:7, layers:[[bottleRlaFar,bottleRlaFarDots,Z2],[bottleRlaNear,bottleRlaNearDots,Z9]]},
 {f:[1936,220,2376,659], b:'#333', w:1.1, s:10, layers:[[circlesRlaTracks,circlesRlaDots,Z10]]},
 {f:[2391,219.5,2836,663.5], b:'#555', rects:[hall2RlaBlocks,Z3], w:.55, s:3.2, layers:[[hall2RlaTracks,hall2RlaDots,Z3]]},
 {f:[2850,220,3292,661], b:'#222', rects:[hall4RlaBlocks,Z3], w:.55, s:3.2, layers:[[hall4RlaTracks,hall4RlaDots,Z3]]},
 {f:[123.5,676,535,1120.7], b:'#222', ego:egoBcaTracks, crop:Z4, sq:[21,42]},
 {f:[564,675.7,1008,1120], b:'#777', rects:[evac1BcaWalls,Z4], w:.9, s:6, layers:[[evac1BcaTracks,evac1BcaDots,Z4]]},
 {f:[1020,678,1462,1119], b:'#222', rects:[evac2BcaWalls,Z5], w:.9, s:7, layers:[[evac2BcaTracks,evac2BcaDots,Z5]]},
 {f:[1480,675,1924,1119], b:'#777', rects:[bottleBcaBlocks,Z5], w:.9, s:6.5, layers:[[bottleBcaTracks,bottleBcaDots,Z5]]},
 {f:[1935,678,2378,1119], b:'#222', w:1.1, s:10, layers:[[circlesBcaTracks,circlesBcaDots,Z6]]},
 {f:[2392,678,2836,1120], b:'#444', rects:[hall2BcaBlocks,Z6], w:.55, s:3.2, layers:[[hall2BcaTracks,hall2BcaDots,Z6]]},
 {f:[2850,677,3292,1120], b:'#222', rects:[hall4BcaBlocks,Z6], w:.55, s:3.2, layers:[[hall4BcaTracks,hall4BcaDots,Z6]]}
];

// ---------- build ----------
const rdX = (x, z) => z[0] + x / z[1], rdY = (y, z) => z[2] + y / z[3];
const pairs = (flat, z) => { const o = []; for (let i = 0; i < flat.length; i += 2) o.push([rdX(flat[i], z), rdY(flat[i + 1], z)]); return o; };
const rectSeries = (i, data) => ({
  type: 'custom', xAxisIndex: i, yAxisIndex: i, silent: true, z: 1, data, clip: true,
  renderItem: (p, api) => {
    const a = api.coord([api.value(0), api.value(1)]), b = api.coord([api.value(2), api.value(3)]);
    return { type: 'rect', shape: { x: a[0], y: a[1], width: b[0] - a[0], height: b[1] - a[1] }, style: { fill: blue } };
  }
});
const grid = [], xAxis = [], yAxis = [], series = [];
panels.forEach((p, i) => {
  const [x0, y0, x1, y1] = p.f;
  grid.push({ left: x0, top: y0, width: x1 - x0, height: y1 - y0, show: true, backgroundColor: '#fff', borderColor: p.b, borderWidth: 1.4 });
  xAxis.push({ type: 'value', gridIndex: i, min: x0, max: x1, show: false });
  yAxis.push({ type: 'value', gridIndex: i, min: y0, max: y1, inverse: true, show: false });
  if (p.ego) {
    const z = p.crop;
    series.push(rectSeries(i, egoSquares.map((c, k) => {
      const cy = i === 0 ? c[1] : (k === 0 || k === 1 ? 124 : (c[1] - 559) * 3 / 2.306 + 124);
      return [rdX(c[0] - p.sq[0] / 2, z), rdY(cy - p.sq[1] / 2, z), rdX(c[0] + p.sq[0] / 2, z), rdY(cy + p.sq[1] / 2, z)];
    })));
    p.ego.forEach((t, k) => {
      const d = pairs(t, z);
      series.push({ type: 'line', xAxisIndex: i, yAxisIndex: i, data: d, smooth: .25, showSymbol: false, silent: true, z: 3, lineStyle: { width: 2.2, color: palette[egoEdges[k]] } });
      series.push({ type: 'scatter', xAxisIndex: i, yAxisIndex: i, data: [d[0]], symbol: 'triangle', symbolSize: [11, 12], silent: true, z: 4, itemStyle: { color: palette[egoFaces[k]], borderColor: palette[egoEdges[k]], borderWidth: 1.5 } });
    });
  } else {
    if (p.rects) series.push(rectSeries(i, Object.values(p.rects[0]).map(r => [rdX(r[0], p.rects[1]), rdY(r[1], p.rects[1]), rdX(r[2], p.rects[1]), rdY(r[3], p.rects[1])])));
    p.layers.forEach(([tracks, dots, z]) => {
      Object.keys(tracks).forEach(key => tracks[key].forEach(t => series.push({
        type: 'line', xAxisIndex: i, yAxisIndex: i, data: pairs(t, z), smooth: .35, showSymbol: false, silent: true, z: 3,
        lineStyle: { width: p.w, color: palette[key] }
      })));
      Object.keys(dots).forEach(key => series.push({
        type: 'scatter', xAxisIndex: i, yAxisIndex: i, data: pairs(dots[key], z), symbol: 'circle', symbolSize: p.s, silent: true, z: 4, itemStyle: { color: palette[key] }
      }));
    });
  }
});
const serif = '"Liberation Serif","Times New Roman",serif';
const hdr = (text, x, y) => ({ type: 'text', x, y, z: 10, style: { text, fill: '#000', font: '33px ' + serif, textAlign: 'center', textVerticalAlign: 'middle' } });
const rot = (text, x, y, size) => ({ type: 'text', x, y, z: 10, rotation: Math.PI / 2, style: { text, fill: '#000', font: size + 'px ' + serif, textAlign: 'center', textVerticalAlign: 'middle' } });
const rule = (x1, y1, x2, y2, w) => ({ type: 'line', z: 9, shape: { x1, y1, x2, y2 }, style: { stroke: '#000', lineWidth: w } });
const colX = [558, 1013.5, 1472, 1929, 2385, 2843, 3301];
const graphic = [
  rule(100, 0, 100, 1125, 3.4), rule(558, 0, 558, 1125, 3.4), rule(558, 109, 3301, 109, 3), rule(0, 214.5, 3301, 214.5, 3.4), rule(0, 670, 3301, 670, 3.6),
  ...colX.slice(1, 6).map(x => rule(x, 109, x, 1125, 3.2)),
  hdr(groupHeaders[0][0], 329, 26), hdr(groupHeaders[0][1], 329, 68), hdr(groupHeaders[1][0], 1930, 26), hdr(groupHeaders[1][1], 1930, 68),
  rot(rowLabels[0], 35.5, 443, 37), rot(rowLabels[1], 35.5, 898, 37)
];
columnHeaders.forEach((h, i) => h.forEach((t, j) => graphic.push(hdr(t, (colX[i] + colX[i + 1]) / 2, 134 + j * 43))));

echarts.init(document.getElementById('c'), null, { renderer: 'canvas' }).setOption({ animation: false, backgroundColor: '#fff', grid, xAxis, yAxis, series, graphic });
</script></body></html>
